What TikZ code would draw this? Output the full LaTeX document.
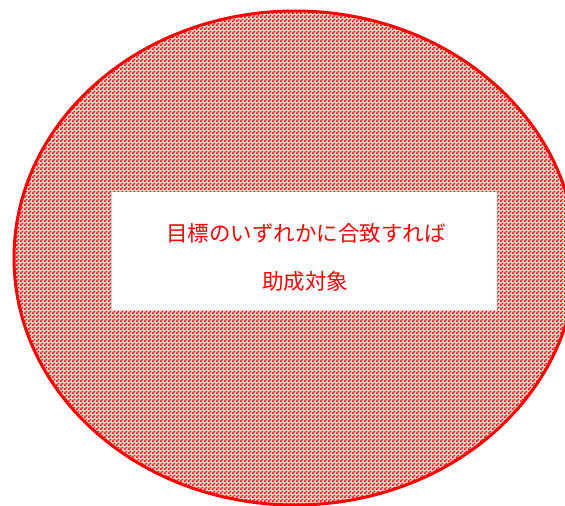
\documentclass[tikz,border=0pt]{standalone}
\usepackage{fontspec}
\newfontfamily\jpfont{Noto Sans CJK JP}
\usetikzlibrary{patterns}
\pgfdeclarepatternformonly{finecheck}{\pgfpointorigin}{\pgfqpoint{4pt}{4pt}}{\pgfqpoint{4pt}{4pt}}{%
  \pgfpathrectangle{\pgfpointorigin}{\pgfqpoint{2pt}{2pt}}%
  \pgfpathrectangle{\pgfqpoint{2pt}{2pt}}{\pgfqpoint{2pt}{2pt}}%
  \pgfusepath{fill}%
}
\tikzset{
  blob/.style={draw=red, line width=3pt, pattern=finecheck, pattern color=red},
  panel/.style={fill=white, draw=none},
  label/.style={text=red, font=\jpfont\fontsize{21.5pt}{25pt}\selectfont, inner sep=0pt, anchor=center}
}
\begin{document}
\begin{tikzpicture}[x=1pt,y=-1pt]
\useasboundingbox (0,0) rectangle (565,506);
\clip (0,0) rectangle (565,506);
\fill[white] (0,0) rectangle (565,506);
\fill[red!18] (295,258) ellipse [x radius=281, y radius=247];
\path[blob] (295,258) ellipse [x radius=281, y radius=247];
\node[panel, minimum width=385pt, minimum height=118pt, inner sep=0pt] (box) at (304.5,251) {};
\node[label] (l1) at (306,233) {目標のいずれかに合致すれば};
\node[label] (l2) at (305,281) {助成対象};
\end{tikzpicture}
\end{document}
